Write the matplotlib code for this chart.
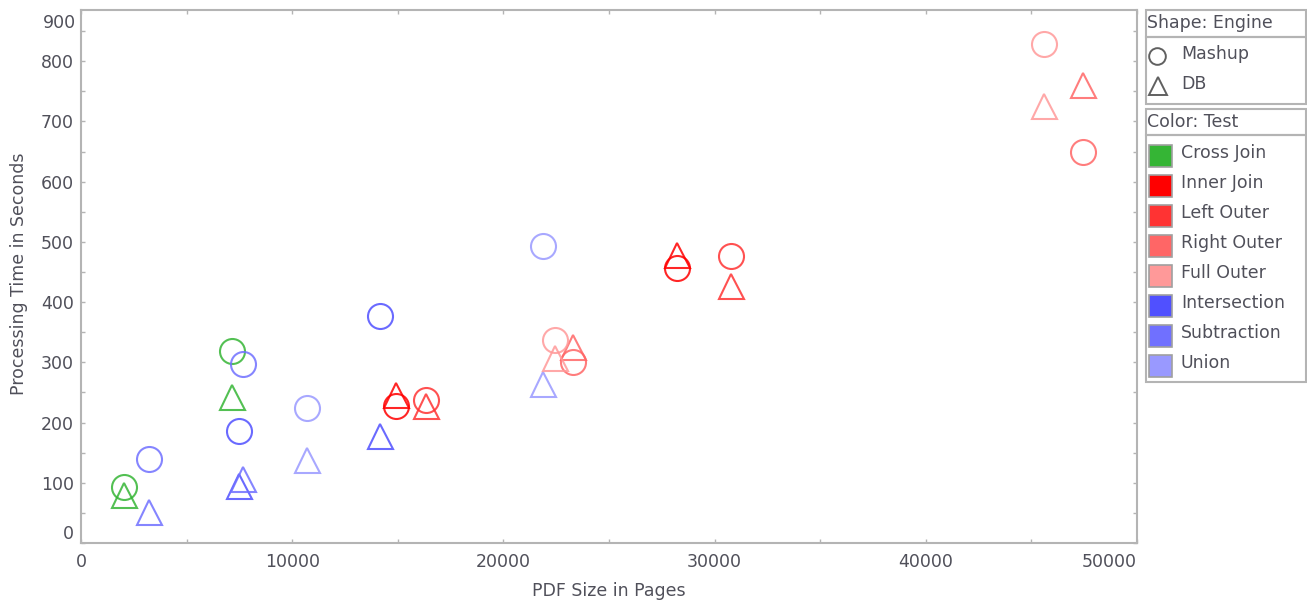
import matplotlib
matplotlib.use("Agg")
import matplotlib.pyplot as plt
import matplotlib.ticker as mticker
from matplotlib.patches import Rectangle

# legend categories
tests = ['Cross Join', 'Inner Join', 'Left Outer', 'Right Outer',
         'Full Outer', 'Intersection', 'Subtraction', 'Union']
test_colors = ['#35b535', '#ff0000', '#ff3333', '#ff6666',
               '#ff9999', '#5050ff', '#7070ff', '#9999ff']
engines = ['Mashup', 'DB']
engine_markers = {'Mashup': 'o', 'DB': '^'}

# one entry per measured point
point_test = [
    'Cross Join', 'Cross Join', 'Cross Join', 'Cross Join',
    'Intersection', 'Intersection', 'Intersection', 'Intersection',
    'Subtraction', 'Subtraction', 'Subtraction', 'Subtraction',
    'Union', 'Union', 'Union', 'Union',
    'Inner Join', 'Inner Join', 'Inner Join', 'Inner Join',
    'Left Outer', 'Left Outer', 'Left Outer', 'Left Outer',
    'Right Outer', 'Right Outer', 'Right Outer', 'Right Outer',
    'Full Outer', 'Full Outer', 'Full Outer', 'Full Outer',
]
point_engine = ['Mashup', 'DB'] * 16
pages = [
    2036, 2036, 7135, 7135,
    7495, 7495, 14157, 14157,
    3220, 3220, 7685, 7685,
    10715, 10715, 21861, 21861,
    14915, 14915, 28206, 28206,
    16321, 16321, 30762, 30762,
    23310, 23310, 47457, 47457,
    22443, 22443, 45611, 45611,
]
seconds = [
    93, 79, 318, 242,
    186, 95, 377, 178,
    139, 52, 298, 106,
    224, 137, 493, 264,
    228, 246, 456, 478,
    238, 228, 477, 427,
    301, 325, 650, 761,
    337, 308, 829, 726,
]

x_ticks = [0, 10000, 20000, 30000, 40000, 50000]
y_ticks = [0, 100, 200, 300, 400, 500, 600, 700, 800]

text_c = '#50505a'
frame_c = '#b4b4b4'
fs = 12.5

W, H = 1307, 604
fig = plt.figure(figsize=(W / 100, H / 100), dpi=100)
ax = fig.add_axes([81 / W, (H - 543) / H, (1137 - 81) / W, (543 - 10) / H])

color_of = dict(zip(tests, test_colors))
for t, e, x, y in zip(point_test, point_engine, pages, seconds):
    ax.plot(x, y, linestyle='none', marker=engine_markers[e], markersize=18,
            markerfacecolor='none', markeredgecolor=color_of[t],
            markeredgewidth=1.5, alpha=0.85)

ax.set_xlim(0, 50000)
ax.set_ylim(0, 885)
ax.set_xticks(x_ticks)
ax.set_yticks(y_ticks)
ax.xaxis.set_minor_locator(mticker.MultipleLocator(5000))
ax.yaxis.set_minor_locator(mticker.MultipleLocator(50))
ax.tick_params(which='both', direction='in', length=3, width=1,
               color=frame_c, top=True, right=True)
ax.tick_params(axis='x', pad=7, labelsize=fs, labelcolor=text_c)
ax.tick_params(axis='y', pad=5, labelsize=fs, labelcolor=text_c)
for s in ax.spines.values():
    s.set_color(frame_c)
    s.set_linewidth(1.5)

# keep end labels inside the axis like the original
xl = ax.get_xticklabels()
xl[-1].set_ha('right')
yl = ax.get_yticklabels()
yl[0].set_va('bottom')
ax.text(-5 / 1056, 1 - 4 / 533, '900', transform=ax.transAxes,
        ha='right', va='top', fontsize=fs, color=text_c)

ax.set_xlabel('PDF Size in Pages', fontsize=fs, color=text_c)
ax.xaxis.set_label_coords(0.5, -0.073)
ax.set_ylabel('Processing Time in Seconds', fontsize=fs, color=text_c)
ax.yaxis.set_label_coords(-0.05, 0.505)

# legend panels, drawn in pixel coords
lax = fig.add_axes([1140 / W, 0, (W - 1140) / W, 1])
lax.set_xlim(1140, W)
lax.set_ylim(H, 0)
lax.axis('off')

def box(y0, y1):
    lax.add_patch(Rectangle((1145.5, y0), 160, y1 - y0, fill=False,
                            ec=frame_c, lw=1.5))

box(10, 37)
box(37, 104)
lax.text(1147, 23.5, 'Shape: Engine', fontsize=fs, color=text_c, va='center')
lax.plot(1157, 56, marker='o', markersize=12, markerfacecolor='none',
         markeredgecolor='#606060', markeredgewidth=1.4)
lax.text(1181, 54, 'Mashup', fontsize=fs, color=text_c, va='center')
lax.plot(1158, 86, marker='^', markersize=13, markerfacecolor='none',
         markeredgecolor='#606060', markeredgewidth=1.4)
lax.text(1181, 84, 'DB', fontsize=fs, color=text_c, va='center')

box(108.5, 135)
box(135, 381.5)
lax.text(1147, 122, 'Color: Test', fontsize=fs, color=text_c, va='center')
for i, (t, c) in enumerate(zip(tests, test_colors)):
    yc = 156 + 30 * i
    lax.add_patch(Rectangle((1148.5, yc - 11), 23, 22, fc=c, ec='#a0a0a0', lw=1.2))
    lax.text(1181, yc - 3, t, fontsize=fs, color=text_c, va='center')

fig.savefig('out.png', dpi=100)
